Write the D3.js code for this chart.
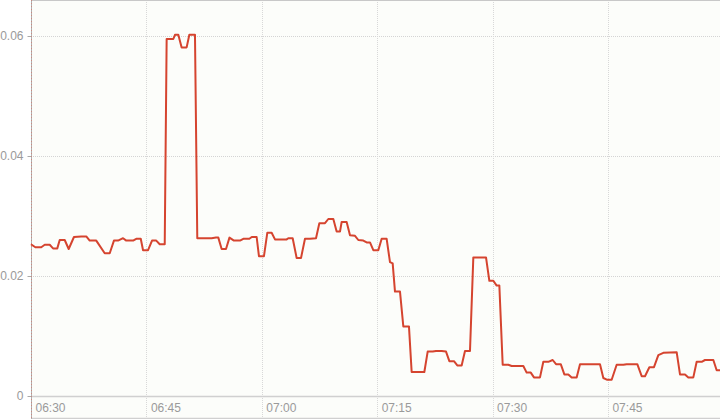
<!DOCTYPE html>
<html>
<head>
<meta charset="utf-8">
<script src="https://cdn.jsdelivr.net/npm/d3@7"></script>
<style>
  html, body { margin: 0; padding: 0; background: #ffffff; }
  svg { display: block; }
</style>
</head>
<body>
<svg id="chart" width="720" height="419"></svg>
<script>
// ---- data ----
const times = [
"06:30:00","06:30:34","06:31:20","06:31:47","06:32:26","06:32:52","06:33:25","06:33:44","06:34:23","06:34:54",
"06:35:35","06:36:32","06:37:11","06:37:38","06:38:29","06:39:35","06:40:14","06:40:47","06:41:19","06:41:58",
"06:42:23","06:43:16","06:43:41","06:44:16","06:44:34","06:45:13","06:45:44","06:46:17","06:46:44","06:47:23",
"06:47:38","06:48:30","06:48:43","06:49:09","06:49:35","06:50:14","06:50:35","06:51:19","06:51:37","06:53:29",
"06:54:03","06:54:21","06:54:47","06:55:21","06:55:48","06:56:23","06:57:10","06:57:36","06:58:23","06:58:42",
"06:59:20","06:59:38","07:00:17","07:00:43","07:01:17","07:01:43","07:03:14","07:03:27","07:04:01","07:04:32",
"07:05:06","07:05:37","07:06:16","07:07:03","07:07:29","07:08:13","07:08:39","07:09:18","07:09:44","07:10:10",
"07:10:23","07:11:02","07:11:28","07:12:07","07:12:33","07:13:12","07:13:38","07:14:04","07:14:30","07:15:09",
"07:15:35","07:16:14","07:16:40","07:17:01","07:17:19","07:17:58","07:18:24","07:19:08","07:19:29","07:21:08",
"07:21:34","07:22:13","07:22:39","07:23:23","07:23:57","07:24:23","07:24:59","07:25:25","07:25:59","07:26:25",
"07:27:04","07:27:30","07:29:09","07:29:35","07:30:06","07:30:32","07:30:53","07:31:19","07:32:03","07:32:29",
"07:34:00","07:34:26","07:34:58","07:35:23","07:36:10","07:36:36","07:37:15","07:37:49","07:38:15","07:38:52",
"07:39:20","07:39:51","07:40:17","07:40:56","07:41:22","07:43:58","07:44:24","07:44:55","07:45:29","07:46:08",
"07:47:00","07:47:26","07:48:49","07:49:23","07:49:49","07:50:23","07:50:59","07:51:33","07:52:12","07:53:56",
"07:54:22","07:55:01","07:55:27","07:56:06","07:56:32","07:57:11","07:57:37","07:58:42","07:59:08","07:59:34"
];
const values = [
0.0253,0.0248,0.0248,0.0252,0.0252,0.0246,0.0246,0.0260,0.0260,0.0245,
0.0265,0.0266,0.0266,0.0259,0.0259,0.0238,0.0238,0.0259,0.0259,0.0263,
0.0259,0.0259,0.0262,0.0262,0.0243,0.0243,0.0259,0.0259,0.0253,0.0253,
0.0595,0.0595,0.0602,0.0602,0.0581,0.0581,0.0602,0.0602,0.0263,0.0263,
0.0264,0.0264,0.0245,0.0245,0.0264,0.0259,0.0259,0.0262,0.0262,0.0265,
0.0265,0.0233,0.0233,0.0272,0.0272,0.0261,0.0261,0.0263,0.0263,0.0230,
0.0230,0.0262,0.0262,0.0263,0.0288,0.0288,0.0295,0.0295,0.0274,0.0274,
0.0290,0.0290,0.0268,0.0267,0.0260,0.0259,0.0256,0.0256,0.0243,0.0243,
0.0262,0.0262,0.0223,0.0221,0.0174,0.0174,0.0116,0.0116,0.0040,0.0040,
0.0074,0.0074,0.0075,0.0075,0.0074,0.0058,0.0058,0.0051,0.0051,0.0075,
0.0075,0.0231,0.0231,0.0192,0.0192,0.0184,0.0184,0.0052,0.0052,0.0050,
0.0050,0.0039,0.0039,0.0031,0.0031,0.0057,0.0057,0.0060,0.0053,0.0053,
0.0036,0.0036,0.0031,0.0031,0.0053,0.0053,0.0030,0.0027,0.0027,0.0052,
0.0052,0.0053,0.0053,0.0033,0.0033,0.0048,0.0048,0.0068,0.0072,0.0073,
0.0036,0.0036,0.0031,0.0031,0.0057,0.0057,0.0060,0.0060,0.0043,0.0043
];
const yTickValues = [0, 0.02, 0.04, 0.06];
const yTickLabels = ["0", "0.02", "0.04", "0.06"];
const xTickTimes = ["06:30", "06:45", "07:00", "07:15", "07:30", "07:45"];
const xTickLabels = ["06:30", "06:45", "07:00", "07:15", "07:30", "07:45"];

// ---- setup ----
const W = 720, H = 419;
const left = 31, right = 720, plotTop = 0, baseY = 396, bottomY = 418;
const parseT = d3.timeParse("%H:%M:%S");
const parseHM = d3.timeParse("%H:%M");
const data = times.map((t, i) => ({ t: parseT(t), v: values[i] }));

const x = d3.scaleTime()
  .domain(d3.extent(data, d => d.t))
  .range([left, right]);
const y = d3.scaleLinear()
  .domain([0, 0.06])
  .range([baseY, 36]);

const svg = d3.select("#chart");

// plot background
svg.append("rect")
  .attr("x", left).attr("y", plotTop)
  .attr("width", right - left).attr("height", bottomY - plotTop)
  .attr("fill", "#fcfdfa");

// horizontal grid (dotted)
svg.append("g").selectAll("line")
  .data(yTickValues.filter(v => v > 0))
  .join("line")
  .attr("x1", left).attr("x2", right)
  .attr("y1", d => Math.round(y(d)) + 0.5).attr("y2", d => Math.round(y(d)) + 0.5)
  .attr("stroke", "#d4d4d4").attr("stroke-width", 1)
  .attr("stroke-dasharray", "1,1");

// vertical grid (dotted)
const xTicks = xTickTimes.map(s => parseHM(s));
svg.append("g").selectAll("line")
  .data(xTicks.slice(1))
  .join("line")
  .attr("x1", d => Math.round(x(d)) + 0.5).attr("x2", d => Math.round(x(d)) + 0.5)
  .attr("y1", plotTop).attr("y2", bottomY)
  .attr("stroke", "#d8d8d8").attr("stroke-width", 1)
  .attr("stroke-dasharray", "1,1");

// top border
svg.append("line")
  .attr("x1", left).attr("x2", right).attr("y1", 0.5).attr("y2", 0.5)
  .attr("stroke", "#c8c8c8");

// baseline and bottom line
svg.append("line")
  .attr("x1", left).attr("x2", right).attr("y1", baseY + 0.5).attr("y2", baseY + 0.5)
  .attr("stroke", "#d0d0d0").attr("stroke-width", 1.5);
svg.append("line")
  .attr("x1", left).attr("x2", right).attr("y1", bottomY + 0.5).attr("y2", bottomY + 0.5)
  .attr("stroke", "#d0d0d0").attr("stroke-width", 1.5);

// y axis
const yAxis = d3.axisLeft(y)
  .tickValues(yTickValues)
  .tickSize(4)
  .tickPadding(4)
  .tickFormat((d, i) => yTickLabels[i]);
const gy = svg.append("g").attr("transform", `translate(${left + 0.5},0)`).call(yAxis);
gy.select(".domain").remove();
gy.selectAll(".tick line").attr("stroke", "#aaaaaa");
gy.selectAll(".tick text")
  .attr("fill", "#9a9a9a")
  .style("font-family", "'Liberation Sans', Arial, sans-serif")
  .style("font-size", "12px");

// left axis line (grey with red dots)
svg.append("line")
  .attr("x1", left + 0.5).attr("x2", left + 0.5).attr("y1", 0).attr("y2", H)
  .attr("stroke", "#b0b0b0");
svg.append("line")
  .attr("x1", left + 0.5).attr("x2", left + 0.5).attr("y1", 0).attr("y2", H)
  .attr("stroke", "#c98a80").attr("stroke-dasharray", "1,2");

// x axis labels
const xAxis = d3.axisBottom(x)
  .tickValues(xTicks)
  .tickSize(0)
  .tickPadding(0)
  .tickFormat((d, i) => xTickLabels[i]);
const gx = svg.append("g").attr("transform", `translate(0,${baseY})`).call(xAxis);
gx.select(".domain").remove();
gx.selectAll(".tick text")
  .attr("text-anchor", "start")
  .attr("x", 4)
  .attr("y", 16)
  .attr("dy", null)
  .attr("fill", "#9a9a9a")
  .style("font-family", "'Liberation Sans', Arial, sans-serif")
  .style("font-size", "12px");

// line
const line = d3.line()
  .x(d => x(d.t))
  .y(d => y(d.v));
svg.append("path")
  .datum(data)
  .attr("d", line)
  .attr("fill", "none")
  .attr("stroke", "#d5442f")
  .attr("stroke-width", 2)
  .attr("stroke-linejoin", "round");
</script>
</body>
</html>
